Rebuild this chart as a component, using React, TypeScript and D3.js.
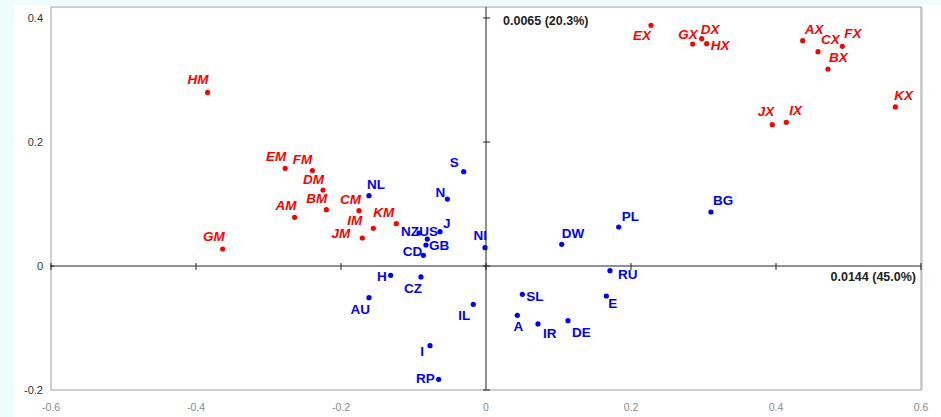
import React from "react";
import * as d3 from "d3";

// Row points (red, italic)
const rowNames = ["HM","EM","FM","DM","BM","AM","CM","IM","JM","KM","GM","EX","GX","DX","HX","AX","CX","FX","BX","JX","IX","KX"];
const rowX = [-0.384,-0.277,-0.2395,-0.2248,-0.2202,-0.264,-0.1752,-0.1554,-0.1706,-0.1237,-0.3632,0.2276,0.2851,0.2975,0.3044,0.4368,0.4579,0.4915,0.4717,0.3949,0.4142,0.5646];
const rowY = [0.280,0.1575,0.154,0.1226,0.0909,0.0785,0.0892,0.0608,0.0452,0.0683,0.0274,0.3882,0.358,0.3666,0.3586,0.3634,0.3457,0.3543,0.3177,0.2279,0.2317,0.2565];

// Column points (blue)
const colNames = ["NL","S","N","J","NZ","US","GB","CD","NI","H","CZ","AU","IL","I","RP","DW","PL","BG","RU","SL","E","A","IR","DE"];
const colX = [-0.1614,-0.0308,-0.0533,-0.0634,-0.0924,-0.081,-0.0828,-0.0864,-0.0014,-0.1315,-0.0897,-0.1614,-0.0175,-0.0772,-0.0653,0.1044,0.183,0.3103,0.171,0.0501,0.166,0.0432,0.0717,0.1131];
const colY = [0.1134,0.1521,0.108,0.0554,0.0532,0.0435,0.0339,0.0172,0.0296,-0.015,-0.0177,-0.0511,-0.0618,-0.1285,-0.1828,0.035,0.0629,0.0871,-0.0075,-0.0457,-0.0484,-0.0796,-0.0935,-0.0882];

const xTicks = [-0.6,-0.4,-0.2,0,0.2,0.4,0.6];
const xTickLabels = ["-0.6","-0.4","-0.2","0","0.2","0.4","0.6"];
const yTicks = [-0.2,0,0.2,0.4];
const yTickLabels = ["-0.2","0","0.2","0.4"];
const axis1Label = "0.0144 (45.0%)";
const axis2Label = "0.0065 (20.3%)";

// label placement: [anchor, dx, dy]
const labelPlace: Record<string, [string, number, number]> = {
  HM:["end",1,-8], EM:["end",1,-7], FM:["end",0,-7], DM:["end",1,-6], BM:["end",1,-7], AM:["end",2,-7],
  CM:["end",2,-7], IM:["end",-11,-3], JM:["end",-12,0], KM:["end",-2,-7], GM:["end",2,-8],
  EX:["end",0,15], GX:["end",5,-5], DX:["start",-1,-5], HX:["start",4,6], AX:["start",2,-7],
  CX:["start",3,-8], FX:["start",2,-8], BX:["start",1,-7], JX:["end",2,-9], IX:["start",3,-7], KX:["start",-1,-7],
  NL:["start",-2,-7], S:["end",-5,-5], N:["end",-2,-2], J:["start",3,-4], NZ:["end",0,3], US:["start",-8,-3],
  GB:["start",3,5], CD:["end",-1,1], NI:["end",2,-8], H:["end",-4,6], CZ:["end",1,16], AU:["end",1,16],
  IL:["end",-3,16], I:["end",-6,10], RP:["end",-4,4], DW:["start",0,-6], PL:["start",3,-6], BG:["start",2,-7],
  RU:["start",8,8], SL:["start",4,7], E:["start",2,12], A:["middle",1,16], IR:["start",5,14], DE:["start",4,16],
};

const W = 941, H = 417;
const font = "Arial, 'Liberation Sans', sans-serif";

export default function App() {
  const x = d3.scaleLinear().domain([-0.6, 0.6]).range([51, 921]);
  const y = d3.scaleLinear().domain([-0.2, 0.4]).range([390, 18]);
  const top = y(0.4177);
  const x0 = x(0), y0 = y(0);

  const rows = rowNames.map((n, i) => ({ n, x: rowX[i], y: rowY[i] }));
  const cols = colNames.map((n, i) => ({ n, x: colX[i], y: colY[i] }));

  return (
    <svg width={W} height={H} style={{ position: "absolute", left: 0, top: 0, fontFamily: font }}>
      <rect x={0} y={0} width={W} height={H} fill="#effcfd" />
      <rect x={14} y={5} width={W - 14} height={H - 5} fill="#ffffff" />
      {/* plot frame */}
      <rect x={x(-0.6)} y={top} width={x(0.6) - x(-0.6)} height={y(-0.2) - top} fill="#fff" stroke="#a0a0a0" strokeWidth={1} />
      <line x1={x(0.6) + 1} x2={x(0.6) + 1} y1={top} y2={y(-0.2)} stroke="#b8b8b8" strokeWidth={1} />
      {/* axes through origin */}
      <line x1={x(-0.6)} x2={x(0.6)} y1={y0} y2={y0} stroke="#222" strokeWidth={1} />
      <line x1={x0} x2={x0} y1={top} y2={y(-0.2)} stroke="#555" strokeWidth={1.3} />
      {xTicks.map((t) => (
        <line key={"xt" + t} x1={x(t)} x2={x(t)} y1={y0 - 3} y2={y0 + 4} stroke="#222" strokeWidth={1} />
      ))}
      {yTicks.map((t) => (
        <line key={"yt" + t} x1={x0 - 3} x2={x0 + 4} y1={y(t)} y2={y(t)} stroke="#222" strokeWidth={1} />
      ))}
      <line x1={x(-0.6) - 1} x2={x(-0.6) + 3} y1={y0} y2={y0} stroke="#222" />
      {/* y tick labels */}
      {yTicks.map((t, i) => (
        <text key={"yl" + t} x={43} y={y(t) + 4} textAnchor="end" fontSize={11} fill="#333">{yTickLabels[i]}</text>
      ))}
      {/* x tick labels (faded) */}
      {xTicks.map((t, i) => (
        <text key={"xl" + t} x={x(t)} y={411} textAnchor="middle" fontSize={10.5} fill="#8a8a8a">{xTickLabels[i]}</text>
      ))}
      {/* axis annotations */}
      <text x={x0 + 17} y={25} fontSize={12.5} fontWeight="bold" fill="#222">{axis2Label}</text>
      <text x={x(0.6) - 5} y={y0 + 15} textAnchor="end" fontSize={12.5} fontWeight="bold" fill="#222">{axis1Label}</text>
      {/* row points */}
      {rows.map((d) => {
        const p = labelPlace[d.n] || ["end", 0, -7];
        return (
          <g key={"r" + d.n}>
            <circle cx={x(d.x)} cy={y(d.y)} r={2.6} fill="#ff0000" />
            <text x={x(d.x) + p[1]} y={y(d.y) + p[2]} textAnchor={p[0] as any} fontSize={13.5} fontWeight="bold" fontStyle="italic" fill="#ff0000">{d.n}</text>
          </g>
        );
      })}
      {/* column points */}
      {cols.map((d) => {
        const p = labelPlace[d.n] || ["start", 0, -7];
        return (
          <g key={"c" + d.n}>
            <circle cx={x(d.x)} cy={y(d.y)} r={2.6} fill="#0000ff" />
            <text x={x(d.x) + p[1]} y={y(d.y) + p[2]} textAnchor={p[0] as any} fontSize={13.5} fontWeight="bold" fill="#0000ff">{d.n}</text>
          </g>
        );
      })}
    </svg>
  );
}
